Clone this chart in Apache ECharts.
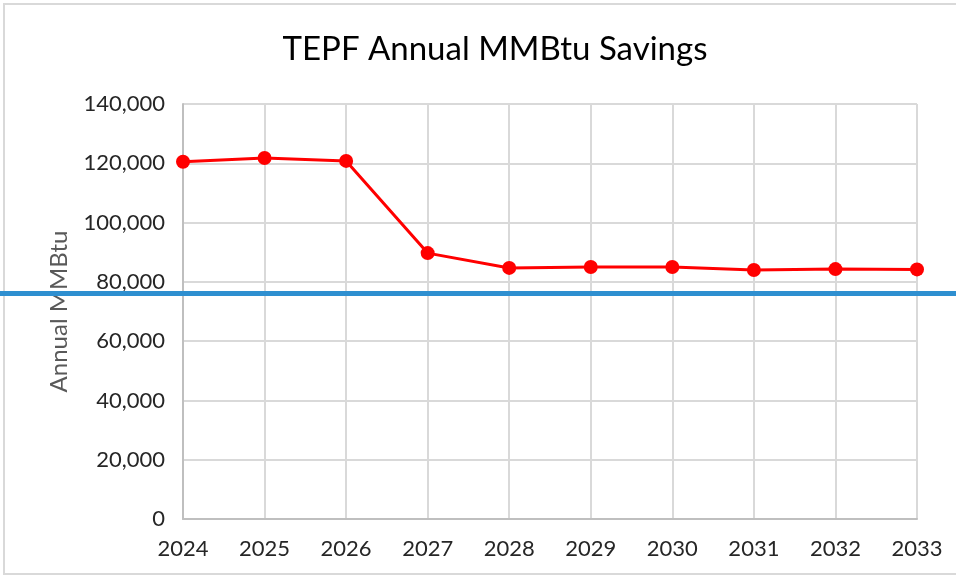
<!DOCTYPE html>
<html>
<head>
<meta charset="utf-8">
<script src="https://cdn.jsdelivr.net/npm/echarts@6/dist/echarts.min.js"></script>
<style>
  html, body { margin: 0; padding: 0; background: #fff; }
  #chart { width: 956px; height: 579px; }
</style>
</head>
<body>
<div id="chart"></div>
<script>
var years = ['2024', '2025', '2026', '2027', '2028', '2029', '2030', '2031', '2032', '2033'];
var savings = [120500, 121800, 120800, 89700, 84700, 85000, 85000, 84000, 84300, 84200];
var yTicks = { min: 0, max: 140000, interval: 20000 };

var chart = echarts.init(document.getElementById('chart'));
chart.setOption({
  animation: false,
  title: {
    text: 'TEPF Annual MMBtu Savings',
    left: 490,
    textAlign: 'center',
    top: 28,
    textStyle: { fontFamily: 'Lato', fontSize: 33, fontWeight: 'normal', color: '#000' }
  },
  grid: { left: 183, right: 39, top: 104, bottom: 60 },
  xAxis: {
    type: 'category',
    data: years,
    boundaryGap: false,
    axisLine: { lineStyle: { color: '#bfbfbf', width: 2 } },
    axisTick: { show: false },
    axisLabel: { color: '#262626', fontFamily: 'Lato', fontSize: 22, margin: 19 },
    splitLine: { show: true, lineStyle: { color: '#d9d9d9', width: 2 } }
  },
  yAxis: {
    type: 'value',
    min: yTicks.min,
    max: yTicks.max,
    interval: yTicks.interval,
    name: 'Annual MMBtu',
    nameLocation: 'middle',
    nameGap: 112,
    nameTextStyle: { color: '#595959', fontFamily: 'Lato', fontSize: 24 },
    axisLine: { show: true, lineStyle: { color: '#bfbfbf', width: 2 } },
    axisTick: { show: false },
    axisLabel: {
      color: '#262626', fontFamily: 'Lato', fontSize: 22, margin: 18,
      formatter: function (v) { return v.toLocaleString('en-US'); }
    },
    splitLine: { lineStyle: { color: '#d9d9d9', width: 2 } }
  },
  series: [{
    type: 'line',
    data: savings,
    symbol: 'circle',
    symbolSize: 14,
    lineStyle: { color: '#ff0000', width: 3 },
    itemStyle: { color: '#ff0000' }
  }],
  graphic: [
    {
      type: 'rect',
      shape: { x: 4, y: 4, width: 960, height: 570 },
      style: { fill: 'none', stroke: '#d9d9d9', lineWidth: 2 },
      silent: true
    },
    {
      type: 'rect',
      z: 100,
      shape: { x: 0, y: 291, width: 956, height: 5 },
      style: { fill: '#2e8fd0' },
      silent: true
    }
  ]
});
</script>
</body>
</html>
